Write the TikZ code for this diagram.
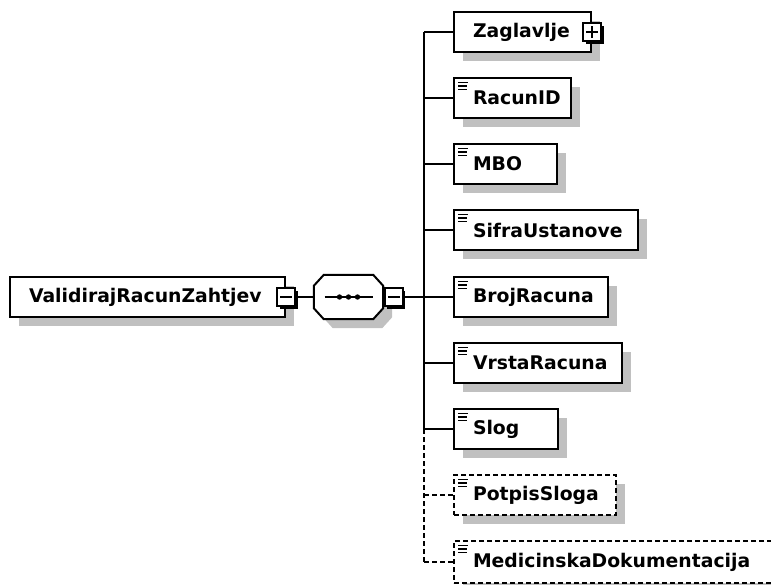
\documentclass[tikz,border=0pt]{standalone}
\usepackage{fontspec}
\setmainfont{DejaVu Sans}
\usetikzlibrary{positioning,calc,shadows}
\definecolor{shadowgray}{RGB}{192,192,192}
\tikzset{
    box/.style={draw,line width=2pt,fill=white,minimum height=40pt,inner xsep=0pt,inner ysep=0pt,
        align=left,execute at begin node={\hspace*{19pt}},
        font=\bfseries\fontsize{18.8}{22}\selectfont,
        general shadow={fill=shadowgray,shadow xshift=9pt,shadow yshift=-9pt}},
    simple/.style={box,path picture={
        \draw[line width=1.3pt,solid] ([shift={(4,4.5)}]path picture bounding box.north west) -- ++(10,0);
        \draw[line width=1.3pt,solid] ([shift={(4,8)}]path picture bounding box.north west) -- ++(9,0);
        \draw[line width=1.3pt,solid] ([shift={(4,11.5)}]path picture bounding box.north west) -- ++(9,0);}},
    optional/.style={dash pattern=on 5pt off 3pt},
    signbox/.style={draw,line width=1.5pt,fill=white,minimum size=18pt,inner sep=0pt,
        general shadow={fill=black,shadow xshift=2.5pt,shadow yshift=-2.5pt}},
    minus/.style={signbox,path picture={
        \draw[line width=1.5pt] ([xshift=3pt]path picture bounding box.west) -- ([xshift=-3pt]path picture bounding box.east);}},
    plus/.style={signbox,path picture={
        \draw[line width=1.5pt] ([xshift=3pt]path picture bounding box.west) -- ([xshift=-3pt]path picture bounding box.east);
        \draw[line width=1.5pt] ([yshift=3pt]path picture bounding box.south) -- ([yshift=-3pt]path picture bounding box.north);}},
    link/.style={line width=2pt}
}

\begin{document}
\begin{tikzpicture}[x=1pt,y=-1pt]
    \useasboundingbox (0,0) rectangle (771,584);
    \clip (0,0) rectangle (771,584);

    % root element and its sequence
    \node[box,text width=275pt] (main) at (147.5,297) {ValidirajRacunZahtjev};
    \node[minus] (mainminus) at (main.east) {};
    \node[minimum width=69pt,minimum height=44pt,inner sep=0pt] (seq) at (348.5,297) {};
    \draw[link,fill=white,general shadow={fill=shadowgray,shadow xshift=9pt,shadow yshift=-9pt}]
        ($(seq.north west)+(10,0)$) -- ($(seq.north east)+(-10,0)$) -- ($(seq.north east)+(0,11)$)
        -- ($(seq.south east)+(0,-11)$) -- ($(seq.south east)+(-10,0)$) -- ($(seq.south west)+(10,0)$)
        -- ($(seq.south west)+(0,-11)$) -- ($(seq.north west)+(0,11)$) -- cycle;
    \draw[link] ([xshift=-24pt]seq.center) -- ([xshift=24pt]seq.center);
    \fill ([xshift=-9pt]seq.center) circle (2.7);
    \fill (seq.center) circle (2.7);
    \fill ([xshift=9pt]seq.center) circle (2.7);
    \node[minus,right=1pt of seq] (seqminus) {};
    \coordinate (spine) at (424,297);

    % children
    \node[box,text width=137pt,anchor=west] (zag) at (453,32) {Zaglavlje};
    \node[plus] (zagplus) at (zag.east) {};
    \node[simple,text width=117pt,anchor=west] (racun) at (453,98) {RacunID};
    \node[simple,text width=103pt,anchor=west] (mbo) at (453,164) {MBO};
    \node[simple,text width=184pt,anchor=west] (sifra) at (453,230) {SifraUstanove};
    \node[simple,text width=154pt,anchor=west] (broj) at (453,297) {BrojRacuna};
    \node[simple,text width=168pt,anchor=west] (vrsta) at (453,363) {VrstaRacuna};
    \node[simple,text width=104pt,anchor=west] (slog) at (453,429) {Slog};
    \node[simple,optional,text width=162pt,anchor=west] (potpis) at (453,495) {PotpisSloga};
    \node[simple,optional,text width=322pt,minimum height=42pt,anchor=west] (medic) at (453,562) {MedicinskaDokumentacija};

    % connectors
    \draw[link] (mainminus) -- (seq);
    \draw[link] (seqminus) -- (spine);
    \draw[link] (spine |- zag.west) -- (spine |- slog.west);
    \draw[link,optional] (spine |- slog.west) -- (spine |- medic.west);
    \draw[link] (spine |- zag.west) -- (zag.west);
    \draw[link] (spine |- racun.west) -- (racun.west);
    \draw[link] (spine |- mbo.west) -- (mbo.west);
    \draw[link] (spine |- sifra.west) -- (sifra.west);
    \draw[link] (spine |- broj.west) -- (broj.west);
    \draw[link] (spine |- vrsta.west) -- (vrsta.west);
    \draw[link] (spine |- slog.west) -- (slog.west);
    \draw[link,optional] (spine |- potpis.west) -- (potpis.west);
    \draw[link,optional] (spine |- medic.west) -- (medic.west);
\end{tikzpicture}
\end{document}
